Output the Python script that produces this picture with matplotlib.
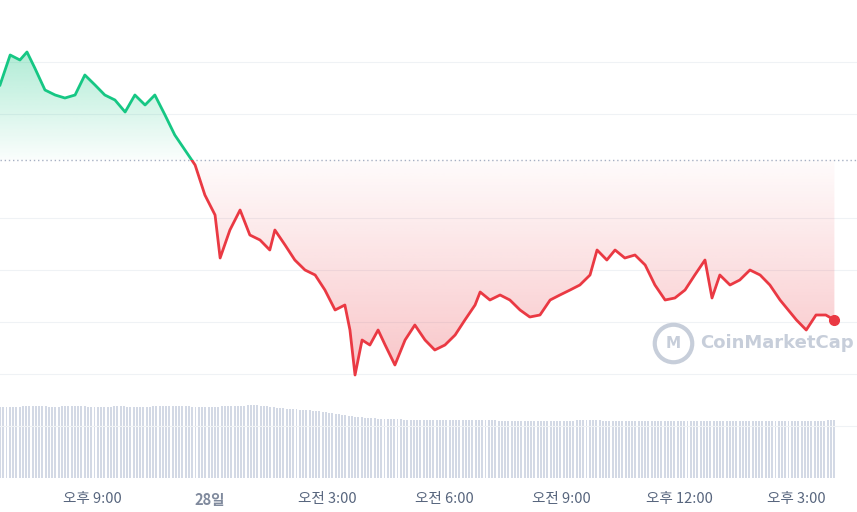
import numpy as np
import matplotlib.pyplot as plt
from matplotlib.patches import Rectangle
from matplotlib.path import Path
from matplotlib.colors import to_rgb

plt.rcParams['font.family'] = ['Noto Sans CJK KR', 'DejaVu Sans']

# hours relative to midnight of the 28th
hours = [-5.37, -5.11, -4.86, -4.68, -4.48, -4.22, -3.96, -3.71, -3.45, -3.20,
         -2.94, -2.69, -2.43, -2.17, -1.92, -1.66, -1.41, -1.15, -0.90, -0.64,
         -0.38, -0.13, 0.13, 0.26, 0.51, 0.77, 1.02, 1.28, 1.53, 1.66, 1.92,
         2.17, 2.43, 2.69, 2.94, 3.20, 3.45, 3.58, 3.71, 3.89, 4.09, 4.30,
         4.48, 4.73, 4.99, 5.24, 5.50, 5.75, 6.01, 6.27, 6.52, 6.78, 6.91,
         7.16, 7.42, 7.67, 7.93, 8.18, 8.44, 8.70, 8.95, 9.21, 9.46, 9.72,
         9.90, 10.15, 10.36, 10.61, 10.87, 11.13, 11.38, 11.64, 11.89, 12.15,
         12.40, 12.66, 12.84, 13.04, 13.30, 13.55, 13.81, 14.07, 14.32, 14.58,
         15.00, 15.25, 15.50, 15.75, 15.97]
price = [315, 345, 340, 348, 332, 310, 305, 302, 305, 325, 315, 305, 300, 288,
         305, 295, 305, 285, 265, 250, 235, 205, 185, 142, 170, 190, 165, 160,
         150, 170, 155, 140, 130, 125, 110, 90, 95, 70, 25, 60, 55, 70, 55, 35,
         60, 75, 60, 50, 55, 65, 80, 95, 108, 100, 105, 100, 90, 83, 85, 100,
         105, 110, 115, 125, 150, 140, 150, 142, 145, 135, 115, 100, 102, 110,
         125, 140, 102, 125, 115, 120, 130, 125, 115, 100, 80, 70, 85, 85, 80]
baseline = 240

vol_hours = np.arange(-5.37, 15.98, 1 / 12)
vol_coarse = [71, 71, 72, 72, 71, 72, 72, 71, 71, 72, 71, 71, 72, 72, 72, 71,
              71, 72, 72, 73, 72, 70, 69, 68, 67, 65, 63, 61, 60, 59, 59, 58,
              58, 58, 58, 58, 58, 58, 57, 57, 57, 57, 57, 57, 58, 58, 57, 57,
              57, 57, 57, 57, 57, 57, 57, 57, 57, 57, 57, 57, 57, 57, 57, 58]
volume = np.interp(np.linspace(0, len(vol_coarse) - 1, len(vol_hours)),
                   np.arange(len(vol_coarse)), vol_coarse)

tick_hours = [-3, 0, 3, 6, 9, 12, 15]
tick_labels = ['오후 9:00', '28일', '오전 3:00', '오전 6:00', '오전 9:00', '오후 12:00', '오후 3:00']

GREEN = '#16c784'
RED = '#ea3943'

W, H = 857, 512
fig = plt.figure(figsize=(W / 100, H / 100), dpi=100)
ax = fig.add_axes([0, 34 / H, 1, 478 / H])
x0 = -5.37
x1 = x0 + 857 / 39.1
ax.set_xlim(x0, x1)
ax.set_ylim(-78, 400)
for s in ax.spines.values():
    s.set_visible(False)
ax.set_yticks([])

for gy in [338, 286, 182, 130, 78, 26, -26]:
    ax.axhline(gy, color='#eff2f5', lw=0.8, zorder=0)

# volume
axv = ax.twinx()
axv.set_ylim(0, 478)
axv.set_yticks([])
for s in axv.spines.values():
    s.set_visible(False)
axv.bar(vol_hours, volume, width=0.05, color='#d3d9e5', zorder=1)

ax.set_zorder(axv.get_zorder() + 1)
ax.patch.set_visible(False)

# gradient fills
t = np.array(hours)
p = np.array(price)
for above, col, top, bot in [(True, GREEN, 360, baseline), (False, RED, baseline, 20)]:
    n = 200
    img = np.zeros((n, 2, 4))
    img[..., :3] = to_rgb(col)
    frac = np.linspace(0, 1, n)[:, None]
    img[..., 3] = 0.02 + 0.35 * frac if above else 0.30 - 0.28 * frac
    im = ax.imshow(img, extent=[t[0], t[-1], bot, top], origin='lower',
                   aspect='auto', zorder=2, interpolation='bilinear')
    where = p >= baseline if above else p <= baseline
    poly = ax.fill_between(t, p, baseline, where=where, interpolate=True, color='none')
    im.set_clip_path(Path.make_compound_path(*poly.get_paths()), ax.transData)

ax.axhline(baseline, color='#a6b0c3', lw=1, ls=(0, (1, 2)), zorder=3)

lg, = ax.plot(t, p, color=GREEN, lw=2, zorder=4, solid_joinstyle='round')
lg.set_clip_path(Rectangle((x0, baseline), 30, 500, transform=ax.transData))
lr, = ax.plot(t, p, color=RED, lw=2, zorder=4, solid_joinstyle='round')
lr.set_clip_path(Rectangle((x0, -200), 30, 200 + baseline, transform=ax.transData))
ax.plot(t[-1], p[-1], 'o', color=RED, ms=7, zorder=5)

ax.set_xticks(tick_hours)
ax.set_xticklabels(tick_labels)
ax.tick_params(axis='x', length=0, pad=10, labelsize=10.5, colors='#58667e')
for lab in ax.get_xticklabels():
    if lab.get_text() == '28일':
        lab.set_fontweight('bold')
        lab.set_color('#808a9d')

# watermark
wy = 1 - 343 / H
fig.text(700 / W, wy, 'CoinMarketCap', fontsize=13, color='#c7ceda',
         fontweight='bold', va='center', ha='left', family=['DejaVu Sans'])
fig.add_artist(plt.Line2D([673 / W], [wy], marker='o', ms=27, mfc='none',
                          mec='#c7ceda', mew=3, transform=fig.transFigure))
fig.text(673 / W, wy, 'M', fontsize=11, color='#c7ceda', fontweight='bold',
         ha='center', va='center', family=['DejaVu Sans'])

fig.savefig('out.png', dpi=100)
